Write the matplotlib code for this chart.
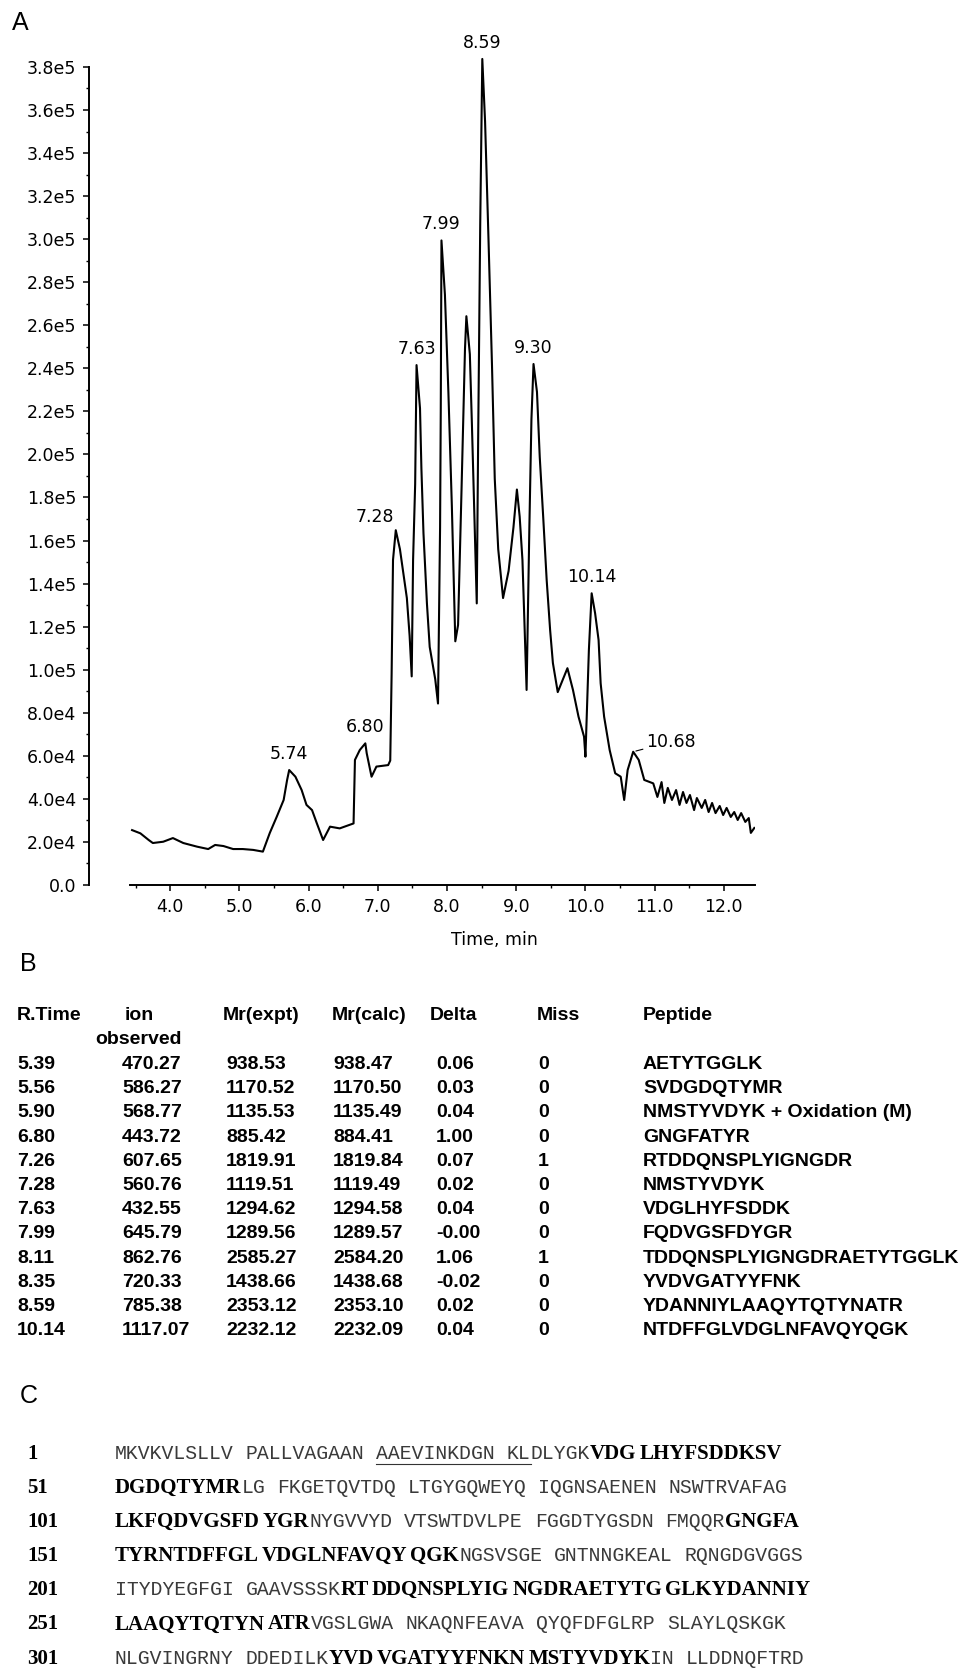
import matplotlib
matplotlib.use("Agg")
import matplotlib.pyplot as plt
from matplotlib.ticker import MultipleLocator, FuncFormatter
import numpy as np

# ---- A: total ion chromatogram ----
time_min = [3.45, 3.57, 3.69, 3.75, 3.90, 4.04, 4.19, 4.39, 4.55, 4.65, 4.77, 4.91,
            5.05, 5.20, 5.34, 5.44, 5.54, 5.64, 5.69, 5.72, 5.81, 5.90, 5.97, 6.05,
            6.12, 6.21, 6.31, 6.45, 6.65, 6.67, 6.74, 6.82, 6.84, 6.91, 6.98, 7.15,
            7.18, 7.20, 7.22, 7.26, 7.32, 7.37, 7.42, 7.46, 7.49, 7.51, 7.54, 7.56,
            7.61, 7.63, 7.66, 7.71, 7.75, 7.83, 7.87, 7.90, 7.91, 7.92, 7.97, 8.02,
            8.07, 8.12, 8.16, 8.21, 8.26, 8.28, 8.33, 8.36, 8.40, 8.43, 8.45, 8.48,
            8.51, 8.55, 8.60, 8.65, 8.69, 8.74, 8.81, 8.89, 8.96, 9.01, 9.05, 9.09,
            9.15, 9.19, 9.22, 9.25, 9.30, 9.34, 9.39, 9.44, 9.49, 9.53, 9.60, 9.74,
            9.82, 9.90, 9.98, 10.00, 10.05, 10.09, 10.14, 10.19, 10.22, 10.27, 10.35,
            10.43, 10.51, 10.56, 10.61, 10.69, 10.77, 10.85, 10.98, 11.04, 11.10,
            11.14, 11.19, 11.25, 11.31, 11.36, 11.41, 11.46, 11.51, 11.57, 11.61,
            11.68, 11.73, 11.78, 11.83, 11.88, 11.94, 11.99, 12.04, 12.10, 12.15,
            12.20, 12.25, 12.31, 12.36, 12.39, 12.44]
intensity_k = [25.5, 24.0, 20.9, 19.5, 20.1, 21.8, 19.5, 17.8, 16.7, 18.6, 18.1, 16.7,
               16.7, 16.3, 15.5, 24.2, 31.7, 39.5, 48.8, 53.4, 50.3, 44.1, 37.2, 34.8,
               28.6, 20.9, 27.1, 26.3, 28.6, 58.1, 62.7, 65.8, 61.2, 50.3, 55.0, 55.7,
               57.8, 98.1, 151.0, 164.8, 156.0, 144.7, 133.3, 115.7, 96.9, 151.0, 186.2, 241.5,
               221.4, 193.7, 163.5, 130.8, 110.6, 95.6, 84.3, 166.1, 221.4, 299.4, 274.2, 229.0,
               176.1, 113.2, 120.8, 183.7, 249.1, 264.2, 246.6, 213.9, 166.1, 130.8, 206.3, 306.9,
               383.7, 354.7, 299.4, 241.5, 188.7, 156.0, 133.3, 145.9, 166.1, 183.7, 171.1, 151.0,
               90.6, 166.1, 216.4, 242.0, 229.0, 198.8, 170.9, 141.7, 118.4, 103.1, 89.6, 100.7,
               90.6, 78.2, 68.9, 59.6, 109.2, 135.5, 126.2, 113.8, 93.7, 78.2, 62.7,
               51.9, 50.3, 39.5, 53.4, 61.9, 58.1, 48.8, 47.2, 40.9, 47.8,
               38.1, 45.1, 39.5, 44.1, 37.2, 43.2, 38.1, 41.8, 34.8, 40.4,
               35.8, 39.5, 33.9, 38.1, 33.4, 36.7, 32.5, 35.8, 31.6, 33.9,
               30.2, 33.4, 29.3, 31.1, 24.2, 26.5]
peak_labels = ["5.74", "6.80", "7.28", "7.63", "7.99", "8.59", "9.30", "10.14", "10.68"]

# ---- B: peptide table ----
r_time = ["5.39", "5.56", "5.90", "6.80", "7.26", "7.28", "7.63", "7.99", "8.11", "8.35", "8.59", "10.14"]
ion_obs = ["470.27", "586.27", "568.77", "443.72", "607.65", "560.76", "432.55", "645.79",
           "862.76", "720.33", "785.38", "1117.07"]
mr_expt = ["938.53", "1170.52", "1135.53", "885.42", "1819.91", "1119.51", "1294.62", "1289.56",
           "2585.27", "1438.66", "2353.12", "2232.12"]
mr_calc = ["938.47", "1170.50", "1135.49", "884.41", "1819.84", "1119.49", "1294.58", "1289.57",
           "2584.20", "1438.68", "2353.10", "2232.09"]
delta = ["0.06", "0.03", "0.04", "1.00", "0.07", "0.02", "0.04", "-0.00", "1.06", "-0.02", "0.02", "0.04"]
miss = ["0", "0", "0", "0", "1", "0", "0", "0", "1", "0", "0", "0"]
peptide = ["AETYTGGLK", "SVDGDQTYMR", "NMSTYVDYK + Oxidation (M)", "GNGFATYR", "RTDDQNSPLYIGNGDR",
           "NMSTYVDYK", "VDGLHYFSDDK", "FQDVGSFDYGR", "TDDQNSPLYIGNGDRAETYTGGLK", "YVDVGATYYFNK",
           "YDANNIYLAAQYTQTYNATR", "NTDFFGLVDGLNFAVQYQGK"]

# ---- C: sequence, 0 = not covered, 1 = covered (bold), 2 = underlined ----
seq_numbers = [1, 51, 101, 151, 201, 251, 301]
seq_rows = [
    [("MKVKVLSLLV PALLVAGAAN ", 0), ("AAEVINKDGN KL", 2), ("DLYGK", 0), ("VDG LHYFSDDKSV", 1)],
    [("DGDQTYMR", 1), ("LG FKGETQVTDQ LTGYGQWEYQ IQGNSAENEN NSWTRVAFAG", 0)],
    [("LKFQDVGSFD YGR", 1), ("NYGVVYD VTSWTDVLPE FGGDTYGSDN FMQQR", 0), ("GNGFA", 1)],
    [("TYRNTDFFGL VDGLNFAVQY QGK", 1), ("NGSVSGE GNTNNGKEAL RQNGDGVGGS", 0)],
    [("ITYDYEGFGI GAAVSSSK", 0), ("RT DDQNSPLYIG NGDRAETYTG GLKYDANNIY", 1)],
    [("LAAQYTQTYN ATR", 1), ("VGSLGWA NKAQNFEAVA QYQFDFGLRP SLAYLQSKGK", 0)],
    [("NLGVINGRNY DDEDILK", 0), ("YVD VGATYYFNKN MSTYVDYK", 1), ("IN LLDDNQFTRD", 0)],
]

W, H = 979, 1669
fig = plt.figure(figsize=(W / 100, H / 100), dpi=100)

# chromatogram
ax = fig.add_axes([130 / W, 1 - 885 / H, 625 / W, 831 / H])
t = np.array(time_min)
y = np.array(intensity_k) * 1000
ax.plot(t, y, color="black", lw=1.5)
ax.set_xlim(3.42, 12.45)
ax.set_ylim(0, 3.86e5)

ax.spines["top"].set_visible(False)
ax.spines["right"].set_visible(False)
ax.spines["left"].set_position(("outward", 29.7))
ax.spines["left"].set_bounds(0, 3.8e5)
ax.spines["left"].set_linewidth(1.4)
ax.spines["bottom"].set_linewidth(1.4)

ax.xaxis.set_major_locator(MultipleLocator(1))
ax.xaxis.set_minor_locator(MultipleLocator(0.5))
ax.xaxis.set_major_formatter(FuncFormatter(lambda v, p: f"{v:.1f}"))
ax.yaxis.set_major_locator(MultipleLocator(2e4))
ax.yaxis.set_minor_locator(MultipleLocator(1e4))


def sci(v, pos):
    if abs(v) < 1:
        return "0.0"
    if v < 0:
        return ""
    e = int(np.floor(np.log10(v) + 1e-9))
    return f"{v / 10 ** e:.1f}e{e}"


ax.yaxis.set_major_formatter(FuncFormatter(sci))
ax.tick_params(which="major", direction="out", length=4, width=1.1, labelsize=12.5, pad=5)
ax.tick_params(which="minor", direction="out", length=2.5, width=1)
ax.set_xlabel("Time, min", fontsize=12.5)
ax.xaxis.set_label_coords(0.583, -0.055)

for lab in peak_labels:
    t0 = float(lab)
    idx = np.where(np.abs(t - t0) <= 0.1)[0]
    i = idx[np.argmax(y[idx])]
    if lab == "7.28":
        ax.annotate(lab, (t[i], y[i]), xytext=(-1, 3), textcoords="offset points",
                    ha="right", va="bottom", fontsize=12.5)
    elif lab == "10.68":
        ax.annotate(lab, (t[i], y[i]), xytext=(9, 7), textcoords="offset points",
                    ha="left", va="center", fontsize=12.5,
                    arrowprops=dict(arrowstyle="-", lw=0.8, shrinkA=0, shrinkB=2))
    else:
        ax.annotate(lab, (t[i], y[i]), xytext=(0, 5), textcoords="offset points",
                    ha="center", va="bottom", fontsize=12.5)

# overlay in pixel units for the panel letters, table and sequence
ov = fig.add_axes([0, 0, 1, 1])
ov.set_xlim(0, W)
ov.set_ylim(H, 0)
ov.axis("off")

panel_font = dict(family="Liberation Sans", fontsize=18, va="baseline")
ov.text(12, 30, "A", **panel_font)
ov.text(20, 971, "B", **panel_font)
ov.text(20, 1403, "C", **panel_font)

tab_font = dict(family="Liberation Sans", fontsize=14, fontweight="bold", va="baseline")
head_x = [17, 139, 223, 332, 430, 537, 643]
for x, h in zip(head_x, ["R.Time", "ion", "Mr(expt)", "Mr(calc)", "Delta", "Miss", "Peptide"]):
    ov.text(x, 1020, h, ha="center" if h == "ion" else "left", **tab_font)
ov.text(139, 1044, "observed", ha="center", **tab_font)

col_x = [17, 122, 226, 333, 436, 538, 643]
columns = [r_time, ion_obs, mr_expt, mr_calc, delta, miss, peptide]
for r in range(len(r_time)):
    yb = 1069 + r * 24.2
    for x, col in zip(col_x, columns):
        ov.text(x, yb, col[r], **tab_font)

# sequence with covered residues in bold
rend = fig.canvas.get_renderer()
light = dict(family="Liberation Mono", fontsize=14.2, color="#3a3a3a", va="baseline")
bold = dict(family="Liberation Serif", fontsize=15, fontweight="bold", color="black", va="baseline")


def width(s, style):
    tx = ov.text(0, 0, s, **style)
    w = tx.get_window_extent(renderer=rend).width
    tx.remove()
    return w


space = {0: width("M M", light) - width("MM", light), 1: width("A A", bold) - width("AA", bold)}

for k, (num, row) in enumerate(zip(seq_numbers, seq_rows)):
    yb = 1458.7 + k * 34.15
    ov.text(27, yb, str(num), **bold)
    x = 115
    for text, kind in row:
        style = bold if kind == 1 else light
        sp = space[1] if kind == 1 else space[0]
        x_start = x
        for j, part in enumerate(text.split(" ")):
            if j > 0:
                x += sp
            if part:
                ov.text(x, yb, part, **style)
                x += width(part, style)
        if kind == 2:
            ov.plot([x_start, x], [yb + 5.5, yb + 5.5], color="#333333", lw=0.8)

fig.savefig("out.png", dpi=100)
